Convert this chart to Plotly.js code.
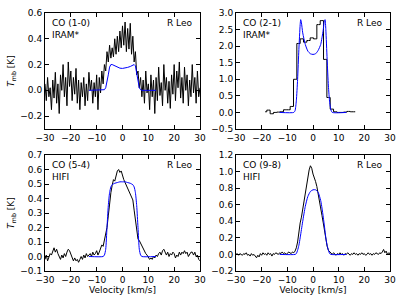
<!DOCTYPE html>
<html><head><meta charset="utf-8">
<script src="https://cdn.plot.ly/plotly-3.0.1.min.js"></script>
<style>html,body{margin:0;padding:0;background:#fff}#c{width:407px;height:305px}</style>
</head><body><div id="c"></div>
<script>
// Velocity grid step for observed spectra (km/s)
const velObs = [];
for (let i = 0; i <= 120; i++) velObs.push(-30 + 0.5 * i);

// CO (1-0) IRAM observed
const co10Obs = [0.05,-0.08,0.1,-0.05,0.02,-0.15,0.08,-0.06,0.14,-0.1,0.05,-0.18,0.12,0.0,0.2,-0.05,0.1,-0.12,0.22,0.03,
0.15,-0.08,0.1,-0.03,0.17,-0.1,0.08,-0.15,0.06,-0.05,0.1,-0.12,0.05,-0.08,0.14,0.0,0.08,-0.1,0.06,-0.05,
0.12,-0.15,0.1,-0.02,0.15,0.05,0.2,0.15,0.3,0.22,0.35,0.25,0.33,0.26,0.4,0.28,0.42,0.3,0.46,0.33,
0.5,0.35,0.53,0.3,0.48,0.32,0.52,0.28,0.42,0.22,0.3,0.12,0.15,0.02,0.1,-0.05,0.08,-0.1,0.15,-0.02,
0.05,-0.15,0.12,-0.05,0.08,-0.18,0.1,-0.08,0.18,-0.04,0.06,-0.12,0.2,0.0,0.1,-0.1,0.07,-0.14,0.12,-0.03,
0.2,-0.08,0.15,0.02,0.22,-0.06,0.1,-0.1,0.18,0.0,0.12,-0.12,0.08,-0.05,0.2,-0.02,0.1,-0.1,0.15,-0.05,0.02];
const co10ModVel = [-13,-7.5,-7,-6.5,-6,-5.5,-5,-4.5,-4,-3,-2,-1,0,1,2,3,4,4.5,5,5.5,6,6.5,7,7.5,13];
const co10Mod = [0,0,0.005,0.02,0.06,0.12,0.18,0.2,0.2,0.19,0.18,0.172,0.17,0.172,0.178,0.185,0.195,0.2,0.19,0.13,0.06,0.02,0.005,0,0];

// CO (2-1) IRAM observed (channel centres, histogram)
const co21Vel = [-18.65,-17.35,-16.05,-14.75,-13.45,-12.15,-10.85,-9.55,-8.25,-6.95,-5.65,-4.35,-3.05,-1.75,-0.45,0.85,2.15,3.45,4.75,6.05,7.35,8.65,9.95,11.25,12.55,13.85,15.15,16.45];
const co21Obs = [0.02,0.07,-0.04,0.0,0.01,0.02,0.08,0.08,0.18,1.0,2.08,2.22,2.12,2.17,2.25,2.22,2.65,2.77,1.6,0.45,0.1,0.02,0.0,0.0,0.01,0.03,0.02,0.02];
const co21ModVel = [-13,-7.5,-7,-6.5,-6,-5.5,-5,-4.8,-4.5,-4,-3,-2,-1,0,1,2,3,3.5,4,4.4,4.7,5,5.5,6,6.5,7,7.5,13];
const co21Mod = [0,0,0.05,0.35,1.0,1.9,2.65,2.8,2.7,2.4,2.05,1.85,1.77,1.75,1.77,1.87,2.05,2.25,2.5,2.75,2.8,2.5,1.6,0.8,0.3,0.07,0,0];

// CO (5-4) HIFI observed
const co54Obs = [-0.02,0.01,-0.03,0.0,0.02,0.01,0.04,0.06,0.03,0.05,0.02,0.0,-0.02,0.01,-0.01,0.02,0.0,0.03,0.05,0.04,
0.02,0.0,-0.03,-0.01,-0.03,-0.02,-0.04,-0.02,0.0,-0.02,0.01,-0.01,0.02,0.0,0.01,0.02,0.0,0.03,0.01,0.02,
0.04,0.01,0.03,0.05,0.08,0.07,0.11,0.14,0.2,0.28,0.37,0.44,0.49,0.53,0.52,0.55,0.59,0.6,0.58,0.59,
0.55,0.53,0.51,0.49,0.47,0.46,0.43,0.42,0.39,0.32,0.24,0.16,0.12,0.11,0.09,0.07,0.06,0.04,0.02,0.01,
-0.01,-0.02,-0.01,-0.02,0.0,-0.01,0.01,0.0,0.02,0.03,0.01,0.04,0.05,0.03,0.01,0.03,0.0,0.02,0.01,0.03,
0.02,-0.01,0.01,0.0,0.03,0.01,0.03,0.02,0.04,0.02,0.03,0.0,0.02,0.03,0.03,0.01,0.03,0.0,0.01,-0.02,-0.03];
const co54ModVel = [-13,-7.5,-7,-6.5,-6,-5.5,-5,-4.5,-4,-3,-2,-1,0,1,2,3,4,4.5,5,5.5,6,6.5,7,7.5,13];
const co54Mod = [0,0,0.01,0.05,0.2,0.35,0.44,0.48,0.495,0.505,0.51,0.515,0.515,0.515,0.51,0.505,0.495,0.48,0.44,0.35,0.2,0.05,0.01,0,0];

// CO (9-8) HIFI observed
const co98Obs = [0.0,0.01,-0.01,0.01,0.0,-0.01,0.01,0.0,0.02,-0.01,0.0,-0.02,0.01,-0.01,0.0,-0.02,-0.04,-0.01,-0.03,0.01,
-0.01,0.02,0.0,0.01,-0.01,0.02,0.0,0.01,-0.02,0.01,0.0,0.02,0.01,0.0,0.02,0.01,0.03,0.01,0.02,0.0,
0.01,0.03,0.02,0.01,0.03,0.02,0.04,0.08,0.15,0.28,0.38,0.45,0.55,0.62,0.7,0.8,0.92,1.02,1.07,1.04,
0.97,0.93,0.88,0.82,0.72,0.62,0.55,0.47,0.38,0.28,0.18,0.1,0.05,0.03,0.02,0.0,0.02,0.0,-0.01,0.01,
0.0,0.02,0.0,0.01,-0.01,0.01,0.0,0.02,0.0,-0.01,0.01,0.0,0.02,0.0,0.01,-0.01,0.01,0.0,0.02,0.0,
0.01,-0.01,0.0,0.02,0.0,0.01,-0.01,0.01,0.0,0.02,0.01,0.0,0.02,0.01,0.03,0.06,0.02,0.04,0.0,0.02,0.01];
const co98ModVel = [-13,-7,-6.5,-6,-5.5,-5,-4.5,-4,-3,-2,-1,0,1,2,3,3.5,4,4.5,5,5.5,6,6.5,7,13];
const co98Mod = [0,0,0.01,0.05,0.11,0.2,0.3,0.4,0.58,0.7,0.76,0.78,0.78,0.75,0.65,0.56,0.45,0.33,0.2,0.11,0.05,0.01,0,0];

const lineLabels = ["CO (1-0)<br>IRAM*", "CO (2-1)<br>IRAM*", "CO (5-4)<br>HIFI", "CO (9-8)<br>HIFI"];
const starName = "R Leo";
const xTicks = [-30,-20,-10,0,10,20,30];

const blk = {color:'#000', width:1};
const blu = {color:'#0000ff', width:1};
const traces = [
  {x: velObs, y: co10Obs, xaxis:'x', yaxis:'y', mode:'lines', line:blk},
  {x: co10ModVel, y: co10Mod, xaxis:'x', yaxis:'y', mode:'lines', line:blu},
  {x: co21Vel, y: co21Obs, xaxis:'x2', yaxis:'y2', mode:'lines', line:Object.assign({shape:'hvh'}, blk)},
  {x: co21ModVel, y: co21Mod, xaxis:'x2', yaxis:'y2', mode:'lines', line:Object.assign({shape:'spline', smoothing:0.6}, blu)},
  {x: velObs, y: co54Obs, xaxis:'x3', yaxis:'y3', mode:'lines', line:blk},
  {x: co54ModVel, y: co54Mod, xaxis:'x3', yaxis:'y3', mode:'lines', line:Object.assign({shape:'spline', smoothing:0.6}, blu)},
  {x: velObs, y: co98Obs, xaxis:'x4', yaxis:'y4', mode:'lines', line:blk},
  {x: co98ModVel, y: co98Mod, xaxis:'x4', yaxis:'y4', mode:'lines', line:Object.assign({shape:'spline', smoothing:0.6}, blu)}
];

const W = 407, H = 305;
const fnt = {family:'DejaVu Sans, sans-serif', size:9, color:'#000'};
function xa(l, r, anchor, title) {
  const o = {domain:[l/W, r/W], anchor:anchor, range:[-30,30], tickvals:xTicks, ticks:'inside', ticklen:4,
    mirror:'allticks', showline:true, linecolor:'#000', linewidth:1, showgrid:false, zeroline:false,
    tickfont:fnt, tickcolor:'#000'};
  if (title) o.title = {text:title, font:fnt, standoff:2};
  return o;
}
function ya(t, b, anchor, rng, dt, title) {
  const o = {domain:[1-b/H, 1-t/H], anchor:anchor, range:rng, dtick:dt, tick0:0, tickformat:'.1f', ticks:'inside', ticklen:4,
    mirror:'allticks', showline:true, linecolor:'#000', linewidth:1, showgrid:false, zeroline:false,
    tickfont:fnt, tickcolor:'#000'};
  if (title) o.title = {text:title, font:fnt, standoff:4};
  return o;
}
const yTitle = "<i>T</i><sub>mb</sub> [K]";
const anns = [];
const refs = [['x','y'],['x2','y2'],['x3','y3'],['x4','y4']];
refs.forEach((r, i) => {
  anns.push({xref:r[0]+' domain', yref:r[1]+' domain', x:0.03, y:0.97, xanchor:'left', yanchor:'top',
    text:lineLabels[i], showarrow:false, align:'left', font:fnt});
  anns.push({xref:r[0]+' domain', yref:r[1]+' domain', x:0.97, y:0.97, xanchor:'right', yanchor:'top',
    text:starName, showarrow:false, align:'right', font:fnt});
});
const layout = {
  width:W, height:H, margin:{l:0,r:0,t:0,b:0}, showlegend:false,
  paper_bgcolor:'#fff', plot_bgcolor:'#fff', font:fnt,
  xaxis: xa(45, 200, 'y'),
  yaxis: ya(13, 129, 'x', [-0.3, 0.6], 0.2, yTitle),
  xaxis2: xa(236, 390, 'y2'),
  yaxis2: ya(13, 129, 'x2', [-0.5, 3.0], 0.5),
  xaxis3: xa(45, 200, 'y3', 'Velocity [km/s]'),
  yaxis3: ya(155, 271, 'x3', [-0.1, 0.7], 0.1, yTitle),
  xaxis4: xa(236, 390, 'y4', 'Velocity [km/s]'),
  yaxis4: ya(155, 271, 'x4', [-0.2, 1.2], 0.2),
  annotations: anns
};
Plotly.newPlot('c', traces, layout, {staticPlot:true, displayModeBar:false});
</script></body></html>
